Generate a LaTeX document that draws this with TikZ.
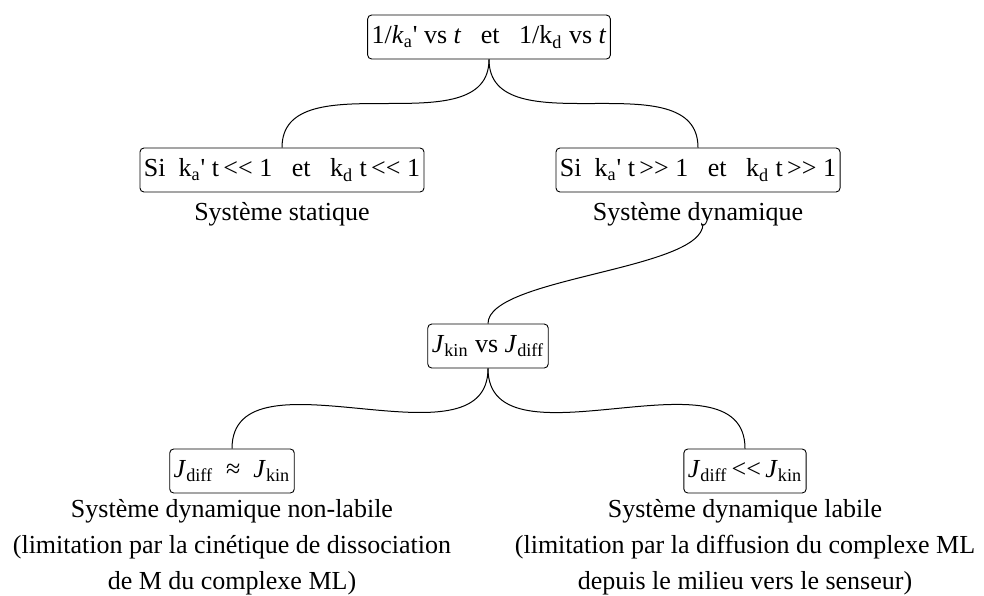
\documentclass[tikz,border=0pt]{standalone}
\usepackage{fontspec}
\setmainfont{Liberation Serif}
\usepackage{tikz}
\usetikzlibrary{positioning}

% two signs, kept apart so that they stay < < and > >
\newcommand{\twolt}{<\kern0pt<}
\newcommand{\twogt}{>\kern0pt>}
\newcommand{\qt}{\textquotesingle}
\newcommand{\gap}{\hspace{0.75em}}

\tikzset{
  condbox/.style={draw, rounded corners=2pt, line width=0.45pt, inner xsep=2pt, inner ysep=4pt, minimum height=22pt},
  caption/.style={inner sep=0pt, align=center},
  link/.style={line width=0.5pt}
}

\begin{document}
\begin{tikzpicture}[x=0.5pt, y=-0.5pt, font=\fontsize{13pt}{18pt}\selectfont]
    \useasboundingbox (0,0) rectangle (984,595);

    % Top: rates against time
    \node[condbox] (rates) at (489,37) {1/\textit{k}\textsubscript{a}\qt{} vs \textit{t}\gap et\gap 1/k\textsubscript{d} vs \textit{t}};

    % Static and dynamic cases
    \node[condbox] (stat) at (282,170) {Si\ \ k\textsubscript{a}\qt{} t\,\twolt{} 1\gap et\gap k\textsubscript{d} t\,\twolt{} 1};
    \node[caption, below=5pt of stat] (statlbl) {Système statique};

    \node[condbox] (dyn) at (698,170) {Si\ \ k\textsubscript{a}\qt{} t\,\twogt{} 1\gap et\gap k\textsubscript{d} t\,\twogt{} 1};
    \node[caption, below=5pt of dyn] (dynlbl) {Système dynamique};

    % Fluxes compared
    \node[condbox] (flux) at (488,346) {\textit{J}\textsubscript{kin} vs \textit{J}\textsubscript{diff}};

    % Non-labile and labile cases
    \node[condbox] (nonlab) at (232,471) {\textit{J}\textsubscript{diff}\ \ ≈\ \ \textit{J}\textsubscript{kin}};
    \node[caption, below=3pt of nonlab] (nonlablbl) {Système dynamique non-labile\\(limitation par la cinétique de dissociation\\de M du complexe ML)};

    \node[condbox] (lab) at (745,471) {\textit{J}\textsubscript{diff}\,\twolt\,\textit{J}\textsubscript{kin}};
    \node[caption, below=3pt of lab] (lablbl) {Système dynamique labile\\(limitation par la diffusion du complexe ML\\depuis le milieu vers le senseur)};

    % Connectors
    \draw[link] (rates.south) to[out=-90, in=90] (stat.north);
    \draw[link] (rates.south) to[out=-90, in=90] (dyn.north);
    \draw[link] (dynlbl.south) ++(5,-3) coordinate (dynfoot) to[out=-90, in=90, looseness=0.5] (flux.north);
    \draw[link] (flux.south) to[out=-90, in=90] (nonlab.north);
    \draw[link] (flux.south) to[out=-90, in=90] (lab.north);
\end{tikzpicture}
\end{document}
